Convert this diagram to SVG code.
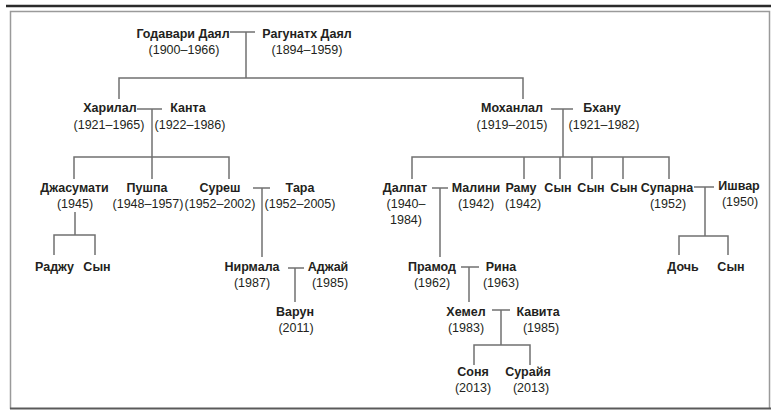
<svg xmlns="http://www.w3.org/2000/svg" width="771" height="410" viewBox="0 0 771 410">
<style>
.n{font-family:"Liberation Sans",Arial,sans-serif;font-size:12.5px;font-weight:bold;fill:#231f20;text-anchor:middle}
.y{font-family:"Liberation Sans",Arial,sans-serif;font-size:12.5px;fill:#231f20;text-anchor:middle}
.c line,.c polyline{stroke:#707070;stroke-width:1.5;fill:none}
</style>
<rect width="771" height="410" fill="#ffffff"/>
<line x1="6" y1="6" x2="771" y2="6" stroke="#2b2b2b" stroke-width="2.5"/>
<polyline points="10.5,409 10.5,11.5 769.5,11.5 769.5,409" fill="none" stroke="#9a9a9a" stroke-width="1.5"/>
<line x1="10" y1="408.5" x2="771" y2="408.5" stroke="#5a5a5a" stroke-width="2"/>
<g class="c" id="connectors">
<line x1="230" y1="32" x2="255" y2="32"/>
<line x1="246" y1="32" x2="246" y2="78"/>
<polyline points="119,99 119,78 523,78 523,99"/>
<line x1="137" y1="109" x2="162" y2="109"/>
<line x1="152" y1="109" x2="152" y2="179"/>
<polyline points="74,179 74,157 229,157 229,179"/>
<line x1="551" y1="109" x2="573" y2="109"/>
<line x1="563" y1="109" x2="563" y2="157"/>
<polyline points="412,179 412,157 669,157 669,179"/>
<line x1="524" y1="157" x2="524" y2="179"/>
<line x1="560" y1="157" x2="560" y2="179"/>
<line x1="592" y1="157" x2="592" y2="179"/>
<line x1="623" y1="157" x2="623" y2="179"/>
<line x1="75" y1="212" x2="75" y2="235"/>
<polyline points="54,255 54,235 95,235 95,255"/>
<line x1="253" y1="188" x2="270" y2="188"/>
<line x1="262" y1="188" x2="262" y2="257"/>
<line x1="288" y1="268" x2="304" y2="268"/>
<line x1="295" y1="268" x2="295" y2="302"/>
<line x1="432" y1="188" x2="448" y2="188"/>
<line x1="440" y1="188" x2="440" y2="257"/>
<line x1="694" y1="187" x2="714" y2="187"/>
<line x1="705" y1="187" x2="705" y2="236"/>
<polyline points="679,255 679,236 728,236 728,255"/>
<line x1="461" y1="267" x2="479" y2="267"/>
<line x1="469" y1="267" x2="469" y2="302"/>
<line x1="492" y1="310" x2="510" y2="310"/>
<line x1="501" y1="310" x2="501" y2="345"/>
<polyline points="474,365 474,345 530,345 530,365"/>
</g>
<g id="godavari"><text class="n" x="183" y="38">Годавари Даял</text><text class="y" x="184" y="54">(1900–1966)</text></g>
<g id="ragunath"><text class="n" x="307" y="38">Рагунатх Даял</text><text class="y" x="307" y="54">(1894–1959)</text></g>
<g id="harilal"><text class="n" x="110" y="112">Харилал</text><text class="y" x="109" y="128.5">(1921–1965)</text></g>
<g id="kanta"><text class="n" x="188" y="112">Канта</text><text class="y" x="190" y="128.5">(1922–1986)</text></g>
<g id="mohanlal"><text class="n" x="512" y="112">Моханлал</text><text class="y" x="512" y="128.5">(1919–2015)</text></g>
<g id="bhanu"><text class="n" x="602" y="112">Бхану</text><text class="y" x="604" y="128.5">(1921–1982)</text></g>
<g id="jasumati"><text class="n" x="74.5" y="192">Джасумати</text><text class="y" x="75" y="208">(1945)</text></g>
<g id="pushpa"><text class="n" x="147" y="192">Пушпа</text><text class="y" x="148" y="208">(1948–1957)</text></g>
<g id="suresh"><text class="n" x="220" y="192">Суреш</text><text class="y" x="220" y="208">(1952–2002)</text></g>
<g id="tara"><text class="n" x="300" y="192">Тара</text><text class="y" x="300" y="208">(1952–2005)</text></g>
<g id="dalpat"><text class="n" x="405" y="192">Далпат</text><text class="y" x="406" y="208">(1940–</text><text class="y" x="406" y="224">1984)</text></g>
<g id="malini"><text class="n" x="476" y="192">Малини</text><text class="y" x="476" y="208">(1942)</text></g>
<g id="ramu"><text class="n" x="521" y="192">Раму</text><text class="y" x="523" y="208">(1942)</text></g>
<g id="son1"><text class="n" x="558" y="192">Сын</text></g>
<g id="son2"><text class="n" x="591" y="192">Сын</text></g>
<g id="son3"><text class="n" x="624" y="192">Сын</text></g>
<g id="suparna"><text class="n" x="667" y="192">Супарна</text><text class="y" x="668" y="208">(1952)</text></g>
<g id="ishvar"><text class="n" x="739" y="190">Ишвар</text><text class="y" x="740" y="206">(1950)</text></g>
<g id="radzhu"><text class="n" x="54.5" y="271">Раджу</text></g>
<g id="son4"><text class="n" x="97" y="271">Сын</text></g>
<g id="nirmala"><text class="n" x="252" y="271">Нирмала</text><text class="y" x="252" y="287">(1987)</text></g>
<g id="adzhai"><text class="n" x="328" y="271">Аджай</text><text class="y" x="330" y="287">(1985)</text></g>
<g id="varun"><text class="n" x="295" y="316">Варун</text><text class="y" x="296" y="332">(2011)</text></g>
<g id="pramod"><text class="n" x="432" y="271">Прамод</text><text class="y" x="432" y="287">(1962)</text></g>
<g id="rina"><text class="n" x="501" y="271">Рина</text><text class="y" x="501" y="287">(1963)</text></g>
<g id="khemel"><text class="n" x="466" y="316">Хемел</text><text class="y" x="466" y="332">(1983)</text></g>
<g id="kavita"><text class="n" x="538" y="316">Кавита</text><text class="y" x="541" y="332">(1985)</text></g>
<g id="sonya"><text class="n" x="473" y="376">Соня</text><text class="y" x="473" y="392">(2013)</text></g>
<g id="suraiya"><text class="n" x="528" y="376">Сурайя</text><text class="y" x="531" y="392">(2013)</text></g>
<g id="doch"><text class="n" x="683" y="271">Дочь</text></g>
<g id="son5"><text class="n" x="731" y="271">Сын</text></g>
</svg>
